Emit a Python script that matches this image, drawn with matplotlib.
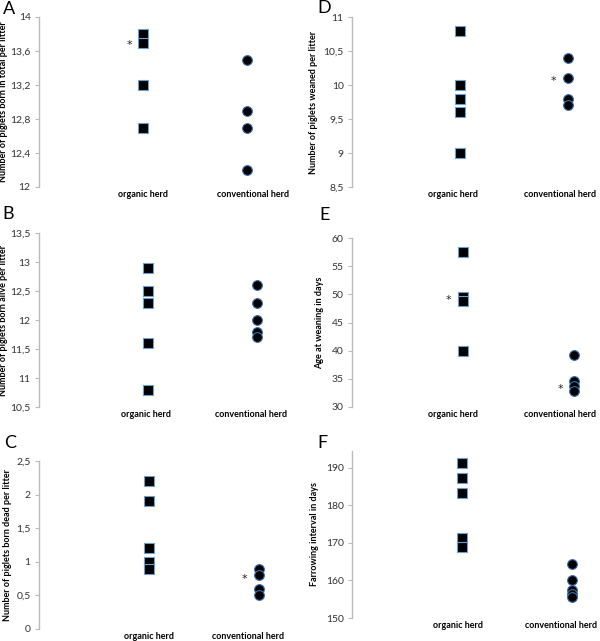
import matplotlib
matplotlib.use("Agg")
import matplotlib.pyplot as plt
from matplotlib.ticker import FixedLocator, FuncFormatter

plt.rcParams['font.family'] = ['Lato', 'DejaVu Sans']

groups = ["organic herd", "conventional herd"]

# panel A - born in total
a_org = [13.8, 13.7, 13.2, 12.7]
a_conv = [13.5, 12.9, 12.7, 12.2]
a_ticks = [12, 12.4, 12.8, 13.2, 13.6, 14]
a_star = [(1, 13.7)]

# panel B - born alive
b_org = [12.9, 12.5, 12.3, 11.6, 10.8]
b_conv = [12.6, 12.3, 12.0, 11.8, 11.7]
b_ticks = [10.5, 11, 11.5, 12, 12.5, 13, 13.5]
b_star = []

# panel C - born dead
c_org = [2.2, 1.9, 1.2, 1.0, 0.9]
c_conv = [0.9, 0.8, 0.6, 0.5]
c_ticks = [0, 0.5, 1, 1.5, 2, 2.5]
c_star = [(2, 0.78)]

# panel D - weaned
d_org = [10.8, 10.0, 9.8, 9.6, 9.0]
d_conv = [10.4, 10.1, 9.8, 9.7]
d_ticks = [8.5, 9, 9.5, 10, 10.5, 11]
d_star = [(2, 10.1)]

# panel E - age at weaning
e_org = [57.5, 49.5, 48.8, 40.0]
e_conv = [39.3, 34.6, 33.8, 32.9]
e_ticks = [30, 35, 40, 45, 50, 55, 60]
e_star = [(1, 49.5), (2, 33.6)]

# panel F - farrowing interval
f_org = [191.2, 187.3, 183.3, 171.2, 168.8]
f_conv = [164.5, 160.2, 157.4, 156.5, 155.7]
f_ticks = [150, 160, 170, 180, 190]
f_star = []

W, H = 600, 641

def px(x0, ytop, ybot):
    # axes rect from pixel positions of the reference
    return [x0 / W, 1 - ybot / H, 258 / W, (ybot - ytop) / H]

# letter, org, conv, ticks, ylim, stars, ylabel, rect, xmax, label x (org, conv),
# letter pos (px), ylabel x (px)
panels = [
    ("A", a_org, a_conv, a_ticks, (12, 14), a_star, "Number of piglets born in total per litter",
     px(39, 17, 187), 2.48, (1.0, 2.06), (3, 9), 8),
    ("B", b_org, b_conv, b_ticks, (10.5, 13.5), b_star, "Number of piglets born alive per litter",
     px(39, 233, 407), 2.37, (0.98, 1.95), (2, 214), 8),
    ("C", c_org, c_conv, c_ticks, (0, 2.5), c_star, "Number of piglets born dead per litter",
     px(39, 461, 629), 2.35, (1.0, 1.9), (4, 443), 12),
    ("D", d_org, d_conv, d_ticks, (8.5, 11), d_star, "Number of piglets weaned per litter",
     px(352, 17, 187), 2.39, (0.94, 1.93), (317, 8), 318),
    ("E", e_org, e_conv, e_ticks, (30, 60), e_star, "Age at weaning in days",
     px(352, 238, 407), 2.32, (0.91, 1.87), (319, 215), 324),
    ("F", f_org, f_conv, f_ticks, (150, 194.5), f_star, "Farrowing interval in days",
     px(352, 451, 618), 2.35, (0.97, 1.9), (317, 443), 319),
]

fig = plt.figure(figsize=(6, 6.41), dpi=100)

def comma(v, pos):
    return ("%g" % v).replace(".", ",")

for (letter, org, conv, ticks, ylim, stars, ylabel, rect, xmax, labx,
     lpos, ylx) in panels:
    ax = fig.add_axes(rect)
    ax.plot([1] * len(org), org, "s", color="black", markersize=6.5,
            markeredgecolor="#6a9fd0", markeredgewidth=0.8, linestyle="none")
    ax.plot([2] * len(conv), conv, "o", color="black", markersize=7,
            markeredgecolor="#3a6fb0", markeredgewidth=0.8, linestyle="none")
    for sx, sy in stars:
        ax.annotate("*", (sx - 0.13, sy), xytext=(0, -2), textcoords="offset points",
                    ha="center", va="center", fontsize=8, color="#222222",
                    family="DejaVu Sans")
    ax.set_xlim(0, xmax)
    ax.set_ylim(*ylim)
    ax.yaxis.set_major_locator(FixedLocator(ticks))
    ax.yaxis.set_major_formatter(FuncFormatter(comma))
    ax.set_xticks(list(labx))
    ax.set_xticklabels(groups, fontsize=6.5, fontweight="bold")
    ax.tick_params(axis="x", length=0, pad=2)
    ax.tick_params(axis="y", length=3, width=0.8, color="#bbbbbb", labelsize=7.5,
                   labelcolor="#333333", pad=3)
    for side in ["top", "right", "bottom"]:
        ax.spines[side].set_visible(False)
    ax.spines["left"].set_color("#bbbbbb")
    ax.spines["left"].set_linewidth(1)
    ax.set_ylabel(ylabel, fontsize=6.5, fontweight="bold")
    ax.yaxis.set_label_coords(ylx / W, rect[1] + rect[3] / 2, transform=fig.transFigure)
    fig.text(lpos[0] / W, 1 - lpos[1] / H, letter, fontsize=13, ha="left", va="center")

fig.savefig("out.png", dpi=100, facecolor="white")
